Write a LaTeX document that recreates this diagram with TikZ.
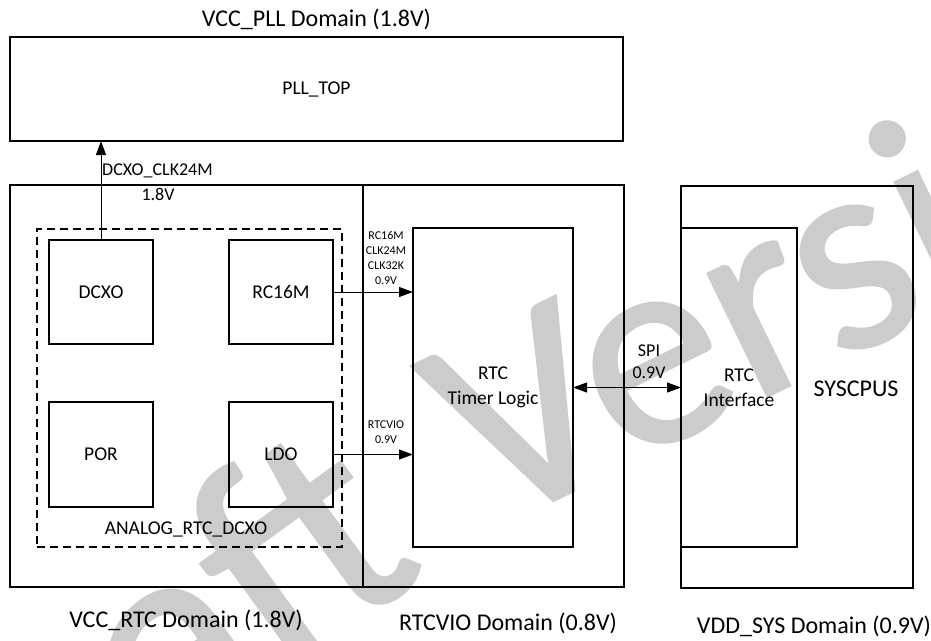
\documentclass[tikz,border=0pt]{standalone}
\usepackage{fontspec}
\setmainfont{Carlito}
\newfontfamily\wmfont[FakeBold=1.0]{Carlito}
\usetikzlibrary{arrows.meta}
\begin{document}
\begin{tikzpicture}[x=1pt,y=-1pt,
  box/.style={draw, line width=1.1pt, inner sep=0pt, outer sep=0pt, align=center,
              font=\fontsize{19.5}{25}\selectfont},
  dashbox/.style={draw, line width=1.2pt, dash pattern=on 8pt off 5pt, inner sep=0pt, outer sep=0pt},
  domlbl/.style={font=\fontsize{24}{28}\selectfont, inner sep=0pt},
  small/.style={font=\fontsize{12}{15}\selectfont, align=center, inner sep=0pt},
  mid/.style={font=\fontsize{18}{22}\selectfont, align=center, inner sep=0pt},
  conn/.style={line width=0.9pt, -{Triangle[length=14pt,width=10pt]}},
  wm/.style={text=black!20, inner sep=0pt, outer sep=0pt,
             font=\wmfont\fontsize{300}{300}\selectfont}
]
\useasboundingbox (0,0) rectangle (931,640);
\clip (0,0) rectangle (931,640);

% watermark
\node[wm, rotate=26, anchor=base west, font=\wmfont\fontsize{285}{285}\selectfont] (wmv) at (491,531) {Version};
\node[wm, rotate=36, anchor=base east] (wmd) at (430,571) {Draft};

% domain boxes
\node[box, minimum width=613pt, minimum height=104pt] (pll) at (316.5,89) {PLL\_TOP};
\node[box, minimum width=353pt, minimum height=402pt] (vccrtc) at (186.5,386) {};
\node[box, minimum width=261pt, minimum height=402pt] (rtcvio) at (493.5,386) {};
\node[box, minimum width=232pt, minimum height=402pt] (vddsys) at (797,387) {};

% analog group
\node[dashbox, minimum width=305pt, minimum height=318pt] (analog) at (189.5,388) {};
\node[box, minimum width=104pt, minimum height=104pt] (dcxo) at (101,292) {DCXO};
\node[box, minimum width=104pt, minimum height=104pt] (rc16m) at (281,292) {RC16M};
\node[box, minimum width=104pt, minimum height=105pt] (por) at (101,454.5) {POR};
\node[box, minimum width=104pt, minimum height=105pt] (ldo) at (281,454.5) {LDO};
\node[box, draw=none, inner sep=0pt] (analoglbl) at (186,529) {ANALOG\_RTC\_DCXO};

% logic blocks
\node[box, minimum width=160pt, minimum height=319pt] (timer) at (493,387.5) {RTC\\Timer Logic};
\node[box, minimum width=116pt, minimum height=319pt] (rtcif) at (739,387.5) {RTC\\Interface};
\node[font=\fontsize{24}{28}\selectfont, inner sep=0pt] (syscpus) at (856,389) {SYSCPUS};

% connectors
\draw[conn] (dcxo.north) -- (dcxo.north |- pll.south);
\draw[conn] (rc16m.east) -- (timer.west |- rc16m.east);
\draw[conn] (ldo.east) -- (timer.west |- ldo.east);
\draw[line width=0.9pt, {Triangle[length=14pt,width=10pt]}-{Triangle[length=14pt,width=10pt]}]
  (timer.east) -- (rtcif.west);

% connector labels
\node[mid, anchor=west] (clklbl) at (102,171) {DCXO\_CLK24M};
\node[mid] (clkv) at (158,194) {1.8V};
\node[small] (rclbl) at (386,257.5) {RC16M\\CLK24M\\CLK32K\\0.9V};
\node[small] (violbl) at (386,432) {RTCVIO\\0.9V};
\node[mid] (spilbl) at (649,362) {SPI\\0.9V};

% domain labels
\node[domlbl] (t1) at (316.5,19) {VCC\_PLL Domain (1.8V)};
\node[domlbl] (t2) at (186,620) {VCC\_RTC Domain (1.8V)};
\node[domlbl] (t3) at (508,623) {RTCVIO Domain (0.8V)};
\node[domlbl] (t4) at (814,626) {VDD\_SYS Domain (0.9V)};
\end{tikzpicture}
\end{document}
